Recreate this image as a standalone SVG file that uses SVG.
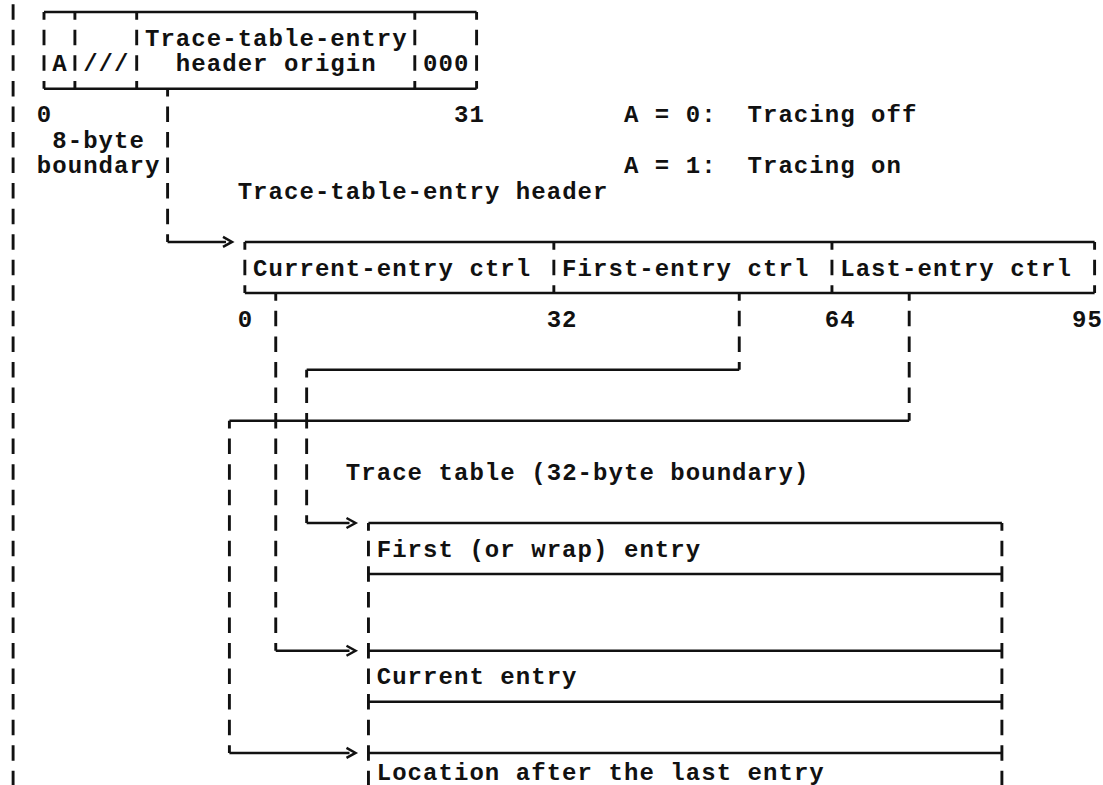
<svg xmlns="http://www.w3.org/2000/svg" width="1103" height="785" viewBox="0 0 1103 785">
<style>
  .v { fill: none; stroke: #111; stroke-width: 2.9; stroke-dasharray: 15.5 10.05; stroke-dashoffset: 7.75; }
  .h { fill: none; stroke: #111; stroke-width: 2.5; }
  .a { fill: none; stroke: #111; stroke-width: 2.5; marker-end: url(#chev); }
  text { font-family: "Liberation Mono", "DejaVu Sans Mono", monospace; font-weight: bold; font-size: 24px; letter-spacing: 1.05px; fill: #111; }
</style>
<defs>
  <marker id="chev" markerUnits="userSpaceOnUse" markerWidth="14" markerHeight="14" refX="3" refY="5" orient="auto" overflow="visible">
    <path d="M0,0 L9,5 L0,10" fill="none" stroke="#111" stroke-width="2.5"/>
  </marker>
</defs>
<rect width="1103" height="785" fill="#fff"/>

<!-- left margin rule -->
<g id="margin">
  <path class="v" d="M13.1,-13.55 V800"/>
</g>

<!-- control register word (header origin) -->
<g id="header-origin-word">
  <path class="h" d="M44,12 H476.6 M44,88.65 H476.6"/>
  <path class="v" d="M44,12 V88.65 M74.9,12 V88.65 M136.7,12 V88.65 M414.8,12 V88.65 M476.6,12 V88.65"/>
  <text x="144.95" y="45.5">Trace-table-entry</text>
  <text x="52.25" y="71.1">A</text>
  <text x="83.15" y="71.1">///</text>
  <text x="175.85" y="71.1">header origin</text>
  <text x="423.05" y="71.1">000</text>
  <text x="36.8" y="122.2">0</text>
  <text x="453.95" y="122.2">31</text>
  <text x="52.25" y="147.75">8-byte</text>
  <text x="36.8" y="173.3">boundary</text>
</g>

<g id="a-legend">
  <text x="623.9" y="122.2">A = 0:</text>
  <text x="747.5" y="122.2">Tracing off</text>
  <text x="623.9" y="173.3">A = 1:</text>
  <text x="747.5" y="173.3">Tracing on</text>
</g>

<!-- trace-table-entry header -->
<g id="trace-table-entry-header">
  <text x="237.65" y="198.85">Trace-table-entry header</text>
  <path class="h" d="M244.85,241.95 H1094.6 M244.85,293.05 H1094.6"/>
  <path class="v" d="M244.85,241.95 V293.05 M553.85,241.95 V293.05 M831.95,241.95 V293.05 M1094.6,241.95 V293.05"/>
  <text x="253.1" y="275.5">Current-entry ctrl</text>
  <text x="562.1" y="275.5">First-entry ctrl</text>
  <text x="840.2" y="275.5">Last-entry ctrl</text>
  <text x="237.65" y="326.6">0</text>
  <text x="546.65" y="326.6">32</text>
  <text x="824.75" y="326.6">64</text>
  <text x="1071.95" y="326.6">95</text>
</g>

<!-- trace table -->
<g id="trace-table">
  <text x="345.8" y="479.9">Trace table (32-byte boundary)</text>
  <path class="h" d="M368.45,523 H1001.9 M368.45,574.1 H1001.9 M368.45,650.75 H1001.9 M368.45,701.85 H1001.9 M368.45,752.95 H1001.9"/>
  <path class="v" d="M368.45,523 V804 M1001.9,523 V804"/>
  <text x="376.7" y="556.55">First (or wrap) entry</text>
  <text x="376.7" y="684.3">Current entry</text>
  <text x="376.7" y="779.5">Location after the last entry</text>
</g>

<!-- connectors -->
<g id="connectors">
  <!-- header origin -> entry header -->
  <path class="v" d="M167.6,88.65 V241.95"/>
  <path class="a" d="M167.6,241.95 H226"/>
  <!-- first-entry ctrl -> first entry -->
  <path class="v" d="M739.25,293.05 V369.7"/>
  <path class="h" d="M306.65,369.7 H739.25"/>
  <path class="v" d="M306.65,369.7 V523"/>
  <path class="a" d="M306.65,523 H349.5"/>
  <!-- current-entry ctrl -> current entry -->
  <path class="v" d="M275.75,293.05 V650.75"/>
  <path class="a" d="M275.75,650.75 H349.5"/>
  <!-- last-entry ctrl -> location after last entry -->
  <path class="v" d="M909.2,293.05 V420.8"/>
  <path class="h" d="M229.4,420.8 H909.2"/>
  <path class="v" d="M229.4,420.8 V752.95"/>
  <path class="a" d="M229.4,752.95 H349.5"/>
</g>
</svg>
